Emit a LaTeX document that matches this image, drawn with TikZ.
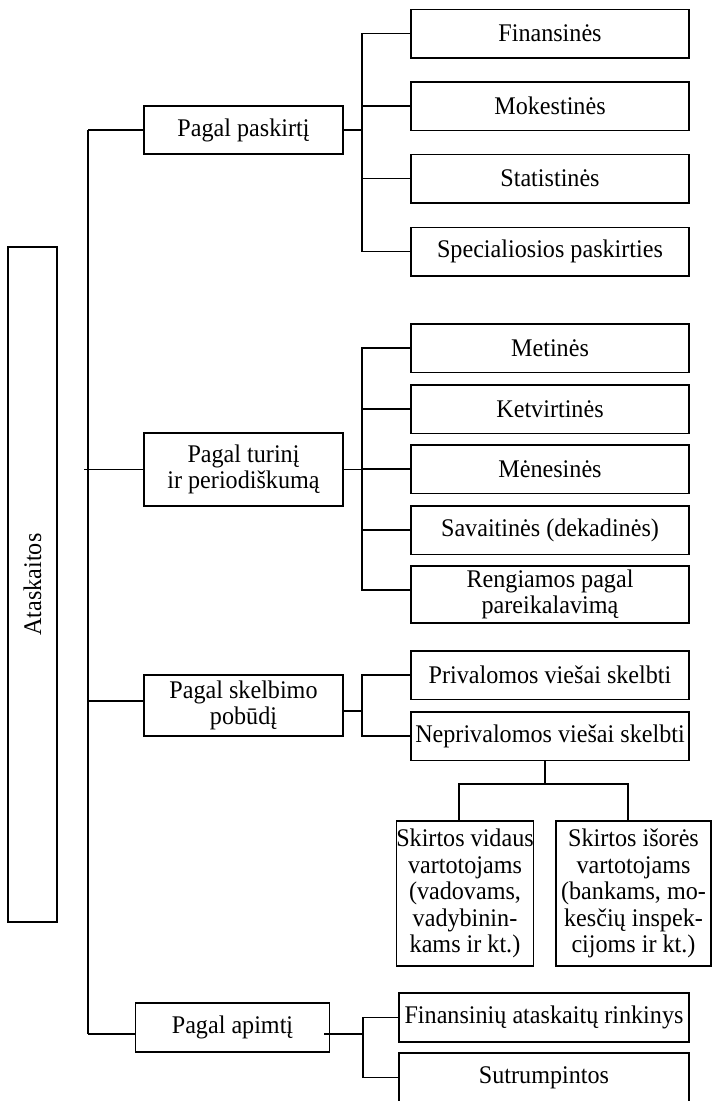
\documentclass[tikz,border=0pt]{standalone}
\usepackage{fontspec}
\setmainfont{Liberation Serif}[FakeStretch=0.95]
\begin{document}
\begin{tikzpicture}[x=1bp,y=-1bp,
  box/.style={draw, line width=1.5bp, inner sep=0pt, align=center,
    font=\fontsize{25.5}{26.5}\selectfont},
  lvl/.style={box, minimum width=199bp},
  leaf/.style={box, minimum width=278bp, minimum height=48.5bp},
  conn/.style={line width=1.2bp}]
\useasboundingbox (0,0) rectangle (712,1101);
\begin{scope}
\clip (0,0) rectangle (712,1101);
% root
\node[box, rotate=90, minimum width=675bp, minimum height=49bp] (ata) at (32.5,584.5) {Ataskaitos};
% level 1
\node[lvl, minimum height=48bp] (p1) at (243.5,130) {Pagal paskirtį};
\node[lvl, minimum height=73bp] (p2) at (243.5,469.5) {Pagal turinį\\ir periodiškumą};
\node[lvl, minimum height=61bp] (p3) at (243.5,705.5) {Pagal skelbimo\\pobūdį};
\node[box, minimum width=194bp, minimum height=49bp] (p4) at (232.5,1027.5) {Pagal apimtį};
% leaves of p1
\node[leaf] (f1) at (550,33.5) {Finansinės};
\node[leaf] (f2) at (550,106) {Mokestinės};
\node[leaf] (f3) at (550,178.5) {Statistinės};
\node[leaf] (f4) at (550,251.5) {Specialiosios paskirties};
% leaves of p2
\node[leaf] (t1) at (550,348) {Metinės};
\node[leaf] (t2) at (550,409) {Ketvirtinės};
\node[leaf] (t3) at (550,469) {Mėnesinės};
\node[leaf] (t4) at (550,530) {Savaitinės (dekadinės)};
\node[leaf, minimum height=57bp] (t5) at (550,594.5) {Rengiamos pagal\\pareikalavimą};
% leaves of p3
\node[leaf] (s1) at (550,675) {Privalomos viešai skelbti};
\node[leaf] (s2) at (550,736) {Neprivalomos viešai skelbti};
\node[box, minimum width=134bp, minimum height=145bp] (v1) at (465,893.5) {Skirtos vidaus\\vartotojams\\(vadovams,\\vadybinin-\\kams ir kt.)};
\node[box, minimum width=155bp, minimum height=145bp] (v2) at (633.5,893.5) {Skirtos išorės\\vartotojams\\(bankams, mo-\\kesčių inspek-\\cijoms ir kt.)};
% leaves of p4
\node[box, minimum width=290bp, minimum height=49bp] (a1) at (544,1017.5) {Finansinių ataskaitų rinkinys};
\node[box, minimum width=290bp, minimum height=49bp] (a2) at (544,1077.5) {Sutrumpintos};
% trunk
\coordinate (T1) at (88,130);
\coordinate (T2) at (84,469.5);
\coordinate (T3) at (88,701);
\coordinate (T4) at (88,1034);
\draw[conn] (T1) -- (T4);
\draw[conn] (T1) -- (p1.west);
\draw[conn] (T2) -- (p2.west);
\draw[conn] (T3) -- (T3 -| p3.west);
\draw[conn] (T4) -- (T4 -| p4.west);
% p1 branch
\coordinate (J1) at (362,130);
\draw[conn] (p1.east) -- (J1);
\draw[conn] (f1.west) -- (f1.west -| J1) |- (f4.west);
\draw[conn] (f2.west) -- (f2.west -| J1);
\draw[conn] (f3.west) -- (f3.west -| J1);
% p2 branch
\coordinate (J2) at (362,469.5);
\coordinate (R) at (362,590);
\draw[conn] (p2.east) -- (J2);
\draw[conn] (t1.west) -- (t1.west -| J2) -- (R) -- (R -| t5.west);
\draw[conn] (t2.west) -- (t2.west -| J2);
\draw[conn] (t3.west) -- (t3.west -| J2);
\draw[conn] (t4.west) -- (t4.west -| J2);
% p3 branch
\coordinate (J3) at (362,711);
\draw[conn] (J3 -| p3.east) -- (J3);
\draw[conn] (s1.west) -- (s1.west -| J3) |- (s2.west);
\coordinate (K) at (545,784);
\coordinate (K1) at (459,784);
\coordinate (K2) at (628,784);
\draw[conn] (K |- s2.south) -- (K);
\draw[conn] (K1 |- v1.north) -- (K1) -- (K2) -- (K2 |- v2.north);
% p4 branch
\coordinate (P4) at (324,1034);
\coordinate (J4) at (363,1034);
\draw[conn] (P4) -- (J4);
\draw[conn] (a1.west) -- (a1.west -| J4) |- (a2.west);
\end{scope}
\end{tikzpicture}
\end{document}
